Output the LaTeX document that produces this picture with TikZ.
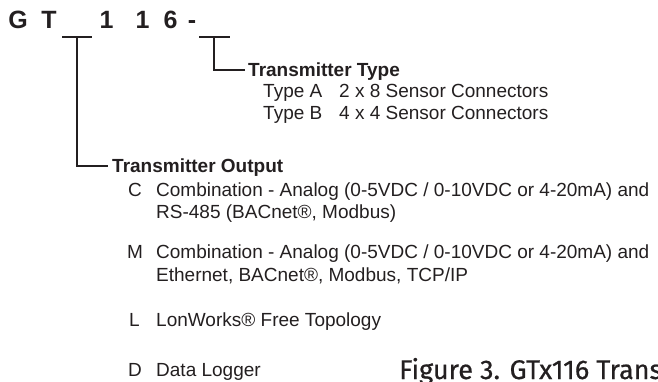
\documentclass[tikz,border=0pt]{standalone}
\usepackage{fontspec}
\setmainfont{Liberation Sans}
\newfontfamily\capfont[FakeBold=0.6]{Fira Sans}
\definecolor{ink}{HTML}{231F20}
\begin{document}
\begin{tikzpicture}[x=1pt,y=-1pt,
  txt/.style={font=\fontsize{19}{22}\selectfont, inner sep=0pt, text height=13.6pt, text depth=0pt, anchor=west, text=ink},
  head/.style={txt, font=\fontsize{19}{22}\selectfont\bfseries},
  code/.style={font=\fontsize{25}{30}\selectfont\bfseries, inner sep=0pt, anchor=base, text=ink},
  capt/.style={font=\capfont\fontsize{27}{30}\selectfont, inner sep=0pt, anchor=base west, text=ink},
  bracket/.style={draw=ink, line width=1.7pt},
]
\clip (0,0) rectangle (658,381);
% part number
\node[code] (cG) at (18,28) {G};
\node[code] (cT) at (49,28) {T};
\node[code] (c1) at (106.5,28) {1};
\node[code] (c2) at (142.5,28) {1};
\node[code] (c6) at (170.5,28) {6};
\node[code] (cd) at (192,28) {-};
% blanks
\coordinate (u1l) at (62,37);
\coordinate (u1r) at (92,37);
\coordinate (u1m) at (77,37);
\coordinate (u2l) at (199,37);
\coordinate (u2r) at (230,37);
\coordinate (u2m) at (214,37);
% headings
\node[head] (ttype) at (248,70) {Transmitter Type};
\node[head] (tout) at (112,166) {Transmitter Output};
% type list
\node[txt] (ta) at (263,91) {Type A};
\node[txt] (tad) at (339,91) {2 x 8 Sensor Connectors};
\node[txt] (tb) at (263,113) {Type B};
\node[txt] (tbd) at (339,113) {4 x 4 Sensor Connectors};
% output list
\node[txt] (oc) at (128,190) {C};
\node[txt] (ocd) at (156,190) {Combination - Analog (0-5VDC / 0-10VDC or 4-20mA) and};
\node[txt] (ocd2) at (156,212) {RS-485 (BACnet®, Modbus)};
\node[txt] (om) at (127,252) {M};
\node[txt] (omd) at (156,252) {Combination - Analog (0-5VDC / 0-10VDC or 4-20mA) and};
\node[txt] (omd2) at (156,275) {Ethernet, BACnet®, Modbus, TCP/IP};
\node[txt] (ol) at (129,320) {L};
\node[txt] (old) at (156,320) {LonWorks® Free Topology};
\node[txt] (od) at (128,370) {D};
\node[txt] (odd) at (156,370) {Data Logger};
% caption
\node[capt] (cap) at (399,379) {Figure 3. GTx116 Trans};
% connectors
\draw[bracket] (u1l) -- (u1r);
\draw[bracket] (u2l) -- (u2r);
\draw[bracket] (u1m) |- ([xshift=-4pt]tout.west);
\draw[bracket] (u2m) |- ([xshift=-3pt]ttype.west);
\end{tikzpicture}
\end{document}
